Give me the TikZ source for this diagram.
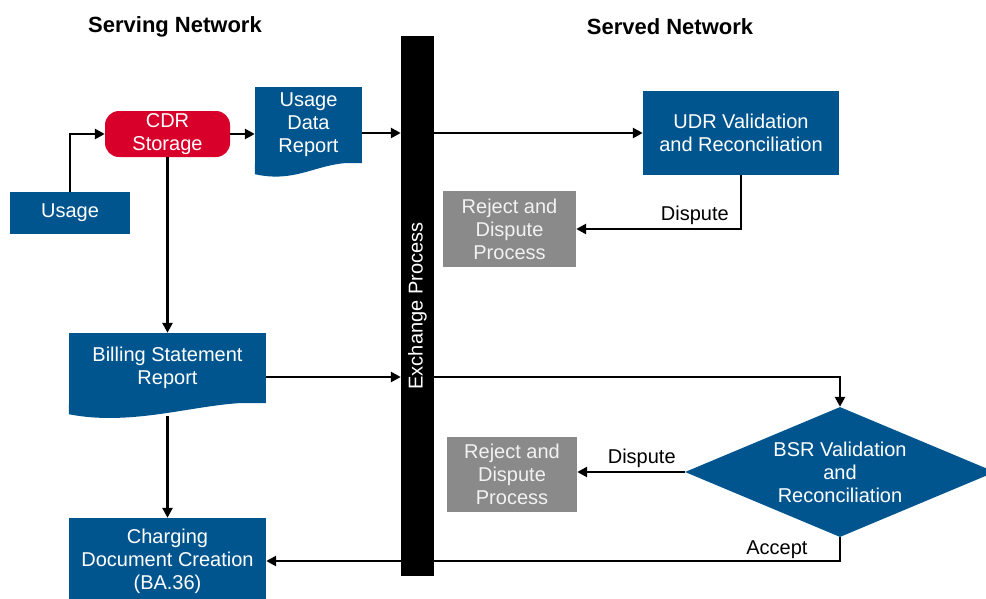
\documentclass[tikz,border=0pt]{standalone}
\usepackage{fontspec}
\setmainfont{Liberation Sans}
\usetikzlibrary{positioning, calc, arrows.meta, shapes.geometric}
\definecolor{netblue}{RGB}{0,85,143}
\definecolor{cdrred}{RGB}{216,0,42}
\definecolor{rejgrey}{RGB}{138,138,138}
\begin{document}
\begin{tikzpicture}[x=1pt, y=-1pt,
    every node/.style={font=\fontsize{20}{23}\selectfont},
    box/.style={fill=netblue, text=white, align=center, inner sep=0pt},
    store/.style={box, fill=cdrred, rounded corners=14pt},
    reject/.style={box, fill=rejgrey, text=white!95!black},
    decide/.style={box, diamond, aspect=2.4},
    title/.style={font=\fontsize{22}{26}\selectfont\bfseries},
    flow/.style={line width=2.8pt, -{Triangle[length=10pt, width=10pt]}}]
    \useasboundingbox (0, 0) rectangle (986, 598);
    % headings
    \node[title] (serving) at (175, 27) {Serving Network};
    \node[title] (served) at (670, 27) {Served Network};
    % serving side
    \node[box, minimum width=120pt, minimum height=42pt] (usage) at (70, 213) {Usage};
    \node[store, minimum width=125pt, minimum height=46pt] (cdr) at (167.5, 134) {CDR\\Storage};
    \node[box, minimum width=107pt, minimum height=76pt] (udr) at (308.5, 125) {Usage\\Data\\Report};
    \fill[netblue] (udr.south east) .. controls +(-42, -4) and +(45, 10) .. ([yshift=-11pt]udr.south west) -- (udr.south west) -- cycle;
    \node[box, minimum width=197pt, minimum height=70pt] (bill) at (167.5, 368) {Billing Statement\\Report};
    \fill[netblue] (bill.south east) .. controls +(-56, -5) and +(71, 14) .. ([yshift=-11pt]bill.south west) -- (bill.south west) -- cycle;
    \node[box, minimum width=197pt, minimum height=86pt] (charge) at (167.5, 561) {Charging\\Document Creation\\(BA.36)};
    % exchange bar
    \node[fill=black, minimum width=33pt, minimum height=540pt, inner sep=0pt] (bar) at (417.5, 306) {};
    \node[text=white, rotate=90] (barlabel) at (bar.center) {Exchange Process};
    % served side
    \node[box, minimum width=196pt, minimum height=84pt] (udrv) at (741, 133) {UDR Validation\\and Reconciliation};
    \node[reject, minimum width=133pt, minimum height=76pt] (rej1) at (509.5, 229) {Reject and\\Dispute\\Process};
    \node[decide, minimum width=310pt, minimum height=130pt] (bsr) at (840, 472) {BSR Validation\\and\\Reconciliation};
    \node[reject, minimum width=130pt, minimum height=75pt] (rej2) at (512, 474.5) {Reject and\\Dispute\\Process};
    % connectors
    \draw[flow] (usage.north) |- (cdr.west);
    \draw[flow] (cdr.east) -- (cdr.east -| udr.west);
    \draw[flow] (udr.east |- udrv.west) -- (bar.west |- udrv.west);
    \draw[flow] (bar.east |- udrv.west) -- (udrv.west);
    \draw[flow] (udrv.south) |- node[pos=0.64, above, inner sep=3pt] (disp1) {Dispute} (rej1.east);
    \draw[flow] (cdr.south) -- (bill.north);
    \draw[flow] ([yshift=-9pt]bill.east) -- ([yshift=-9pt]bill.east -| bar.west);
    \draw[flow] ([yshift=-9pt]bill.east -| bar.east) -| (bsr.north);
    \draw[flow] (bsr.west) -- node[pos=0.4, above, inner sep=3pt] (disp2) {Dispute} (bsr.west -| rej2.east);
    \draw[flow] ([yshift=-13pt]bill.south) -- (charge.north);
    \draw[flow] (bsr.south) |- node[pos=0.555, above, inner sep=1pt] (accept) {Accept} (charge.east);
\end{tikzpicture}
\end{document}
